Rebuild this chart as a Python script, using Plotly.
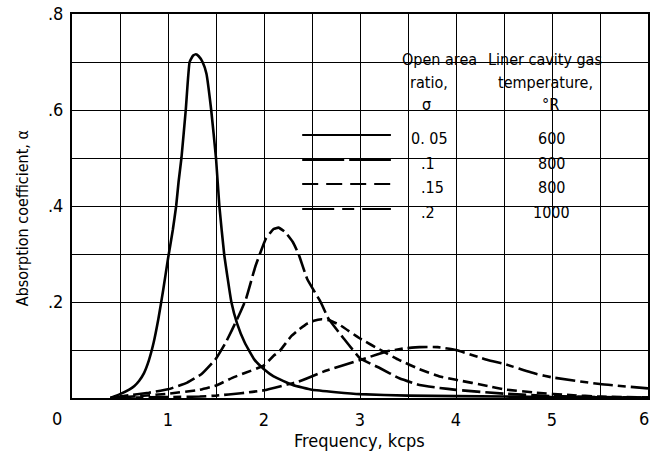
import plotly.graph_objects as go

# ---------------- data ----------------
x_s05 = [0.4, 0.5, 0.6, 0.65, 0.7, 0.75, 0.8, 0.85, 0.9, 0.95, 1.0, 1.05, 1.085, 1.11, 1.14, 1.185, 1.225,
         1.26, 1.29, 1.32, 1.36, 1.40, 1.45, 1.50, 1.535, 1.585, 1.66, 1.72, 1.8, 1.9, 2.0, 2.1, 2.3, 2.5,
         2.75, 3.0, 3.5, 4.0, 5.0, 6.0]
y_s05 = [0.0, 0.008, 0.018, 0.025, 0.036, 0.052, 0.078, 0.115, 0.165, 0.225, 0.29, 0.35, 0.4, 0.45, 0.5,
         0.6, 0.7, 0.713, 0.716, 0.712, 0.70, 0.676, 0.6, 0.5, 0.4, 0.3, 0.2, 0.155, 0.115, 0.08, 0.06,
         0.045, 0.027, 0.017, 0.012, 0.008, 0.005, 0.004, 0.002, 0.001]

x_s10 = [0.4, 0.6, 0.8, 1.0, 1.2, 1.35, 1.5, 1.6, 1.72, 1.81, 1.91, 2.02, 2.1, 2.15, 2.22, 2.3, 2.36,
         2.45, 2.59, 2.67, 2.83, 3.0, 3.21, 3.41, 3.62, 3.83, 4.0, 4.5, 5.0, 5.5, 6.0]
y_s10 = [0.0, 0.006, 0.011, 0.018, 0.032, 0.05, 0.082, 0.115, 0.164, 0.205, 0.274, 0.332, 0.352, 0.355,
         0.346, 0.325, 0.30, 0.248, 0.2, 0.166, 0.124, 0.083, 0.062, 0.041, 0.027, 0.021, 0.017, 0.009,
         0.004, 0.002, 0.001]

x_s15 = [0.4, 0.7, 1.0, 1.33, 1.5, 1.67, 1.8, 2.0, 2.1, 2.16, 2.28, 2.36, 2.45, 2.52, 2.6, 2.68, 2.79,
         3.0, 3.24, 3.41, 3.62, 3.83, 4.0, 4.33, 4.5, 4.84, 5.19, 5.5, 6.0]
y_s15 = [0.0, 0.004, 0.009, 0.017, 0.026, 0.042, 0.052, 0.068, 0.088, 0.097, 0.128, 0.142, 0.155, 0.161,
         0.164, 0.162, 0.152, 0.124, 0.097, 0.079, 0.06, 0.045, 0.038, 0.025, 0.018, 0.011, 0.006, 0.003,
         0.001]

x_s20 = [0.4, 1.0, 1.33, 1.5, 1.76, 2.0, 2.24, 2.36, 2.62, 3.0, 3.28, 3.45, 3.62, 3.81, 4.0, 4.33, 4.5,
         4.84, 5.0, 5.5, 6.0]
y_s20 = [0.0, 0.002, 0.003, 0.005, 0.01, 0.016, 0.028, 0.034, 0.055, 0.079, 0.097, 0.103, 0.106, 0.106,
         0.1, 0.079, 0.071, 0.05, 0.043, 0.029, 0.02]

sigma_labels = ["0. 05", ".1", ".15", ".2"]
temp_labels = ["600", "800", "800", "1000"]

x_tickvals = [0, 0.5, 1, 1.5, 2, 2.5, 3, 3.5, 4, 4.5, 5, 5.5, 6]
x_ticktext = ["", "", "1", "", "2", "", "3", "", "4", "", "5", "", ""]
y_tickvals = [0, 0.1, 0.2, 0.3, 0.4, 0.5, 0.6, 0.7, 0.8]
y_ticktext = ["", "", ".2", "", ".4", "", ".6", "", ".8"]

# ---------------- style ----------------
FONT = "DejaVu Sans Condensed, Liberation Sans Narrow, sans-serif"
W, H = 652, 454
ML, MR, MT, MB = 72, 2, 14, 56
PW, PH = W - ML - MR, H - MT - MB

def px(xp):
    return (xp - ML) / PW

def py(yp):
    return (H - MB - yp) / PH

dashes = ["solid", "18px,5px", "10px,5px", "20px,5px,8px,5px"]
legend_dashes = ["solid", "42px,5px", "16px,8px", "32px,8px,12px,8px"]

fig = go.Figure()
series = [(x_s05, y_s05), (x_s10, y_s10), (x_s15, y_s15), (x_s20, y_s20)]
for (xs, ys), d, lab in zip(series, dashes, sigma_labels):
    fig.add_trace(go.Scatter(x=xs, y=ys, mode="lines", name=lab,
                             line=dict(color="black", width=2.6, dash=d, shape="spline", smoothing=0.35),
                             showlegend=False))

shapes = []
# white mask behind the legend table (covers the grid there)
shapes.append(dict(type="rect", xref="paper", yref="paper", x0=px(294), x1=px(619), y0=py(225), y1=py(47),
                   fillcolor="white", line=dict(width=0), layer="below"))
row_y = [138, 163, 187, 212]
for ry, d in zip(row_y, legend_dashes):
    shapes.append(dict(type="line", xref="paper", yref="paper", x0=px(303), x1=px(392),
                       y0=py(ry - 3), y1=py(ry - 3), line=dict(color="black", width=2.2, dash=d)))

ann = []
def txt(t, x, y, anchor="center", size=16):
    ann.append(dict(text=t, xref="paper", yref="paper", x=px(x), y=py(y), xanchor=anchor, yanchor="middle",
                    showarrow=False, font=dict(family=FONT, size=size, color="black")))

txt("Open area", 441, 60)
txt("ratio,", 430, 82)
txt("σ", 428, 105)
txt("Liner cavity gas", 547, 60)
txt("temperature,", 547, 82)
txt("°R", 552, 105)
for i, (s, t) in enumerate(zip(sigma_labels, temp_labels)):
    txt(s, 410 if i == 0 else 420, row_y[i], anchor="left")
    txt(t, 553, row_y[i])
# corner tick labels and axis titles
txt("0", 57, 418, size=18)
txt("6", 646, 418, size=18)
txt("Frequency, kcps", 360, 440, size=18)
ann.append(dict(text="Absorption coefficient, α", xref="paper", yref="paper", x=px(22), y=py(218),
                textangle=-90, showarrow=False, xanchor="center", yanchor="middle",
                font=dict(family=FONT, size=16, color="black")))

fig.update_layout(
    width=W, height=H, margin=dict(l=ML, r=MR, t=MT, b=MB),
    paper_bgcolor="white", plot_bgcolor="white",
    shapes=shapes, annotations=ann,
    xaxis=dict(range=[0, 6], tickvals=x_tickvals, ticktext=x_ticktext, showgrid=True,
               gridcolor="black", gridwidth=1.2, showline=True, linecolor="black", linewidth=2,
               mirror=True, zeroline=False, ticks="", ticklabelstandoff=4,
               tickfont=dict(family=FONT, size=18, color="black")),
    yaxis=dict(range=[0, 0.8], tickvals=y_tickvals, ticktext=y_ticktext, showgrid=True,
               gridcolor="black", gridwidth=1.2, showline=True, linecolor="black", linewidth=2,
               mirror=True, zeroline=False, ticks="", ticklabelstandoff=3,
               tickfont=dict(family=FONT, size=18, color="black")),
)

fig.write_html("out.html")
